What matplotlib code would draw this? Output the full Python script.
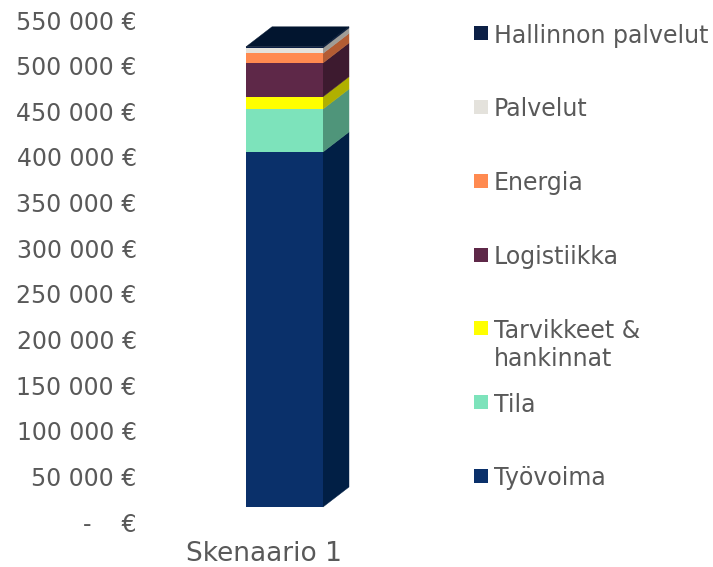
import matplotlib
matplotlib.use("Agg")
import matplotlib.pyplot as plt
from matplotlib.patches import Polygon, Rectangle
from matplotlib.transforms import ScaledTranslation

# cost categories, bottom -> top
categories = ["Työvoima", "Tila", "Tarvikkeet &\nhankinnat", "Logistiikka",
              "Energia", "Palvelut", "Hallinnon palvelut"]
values = [389000, 47000, 13500, 37000, 10500, 6000, 1200]
scenario = "Skenaario 1"
yticks = list(range(0, 550001, 50000))

front_colors = ["#0a306a", "#7de3bb", "#ffff00", "#5e2848", "#ff8a50", "#e4e2dc", "#0c2046"]
side_colors = ["#011f45", "#4f957a", "#b0b000", "#3d1a2f", "#b35c33", "#9f9c96", "#05183a"]
top_color = "#02152f"
grey = "#595959"

W, H = 713, 567
fig = plt.figure(figsize=(W / 100, H / 100), dpi=100)

def fx(px):
    return px / W

def fy(py):
    return 1 - py / H

# plot area in pixels
ax_l, ax_r, ax_t, ax_b = 170, 357, 20, 522
ax = fig.add_axes([fx(ax_l), fy(ax_b), fx(ax_r - ax_l), (ax_b - ax_t) / H])
ax.set_xlim(-0.5, 0.5)
ax.set_ylim(0, 550000)
for s in ax.spines.values():
    s.set_visible(False)

def fmt(v):
    if v == 0:
        return "-    €"
    return f"{v:,.0f}".replace(",", " ") + " €"

ax.set_yticks(yticks)
ax.set_yticklabels([fmt(v) for v in yticks])
ax.set_xticks([0])
ax.set_xticklabels([scenario])
ax.tick_params(axis="y", length=0, pad=24, labelsize=17, labelcolor=grey)
ax.tick_params(axis="x", length=0, pad=14, labelsize=19, labelcolor=grey)

# 3d look: front face lifted/shifted, side + top faces pushed back
shift = ax.transData + ScaledTranslation(0.21, 0.15, fig.dpi_scale_trans)
width = 77 / (ax_r - ax_l)
ddx = 26 / (ax_r - ax_l)
ddy = 20 * 550000 / (ax_b - ax_t)
xl, xr = -width / 2, width / 2

bottom = 0
for v, fc, sc in zip(values, front_colors, side_colors):
    top = bottom + v
    ax.add_patch(Polygon([(xr, bottom), (xr + ddx, bottom + ddy), (xr + ddx, top + ddy), (xr, top)],
                         closed=True, facecolor=sc, edgecolor=sc, linewidth=0.3,
                         transform=shift, clip_on=False))
    ax.bar(0, v, bottom=bottom, width=width, color=fc, linewidth=0,
           transform=shift, clip_on=False, zorder=3)
    bottom = top

ax.add_patch(Polygon([(xl, bottom), (xr, bottom), (xr + ddx, bottom + ddy), (xl + ddx, bottom + ddy)],
                     closed=True, facecolor=top_color, edgecolor=top_color, linewidth=0.3,
                     transform=shift, clip_on=False, zorder=4))

# legend, top entry first
n = len(categories)
y0, y1 = 33, 476
for i, (name, fc) in enumerate(zip(categories[::-1], front_colors[::-1])):
    cy = y0 + i * (y1 - y0) / (n - 1)
    fig.add_artist(Rectangle((fx(474), fy(cy + 7)), fx(14), 14 / H,
                             facecolor=fc, edgecolor="none", transform=fig.transFigure))
    fig.text(fx(494), fy(cy - 9.5), name, fontsize=17, color=grey,
             ha="left", va="top", linespacing=1.2)

fig.savefig("out.png", dpi=100)
